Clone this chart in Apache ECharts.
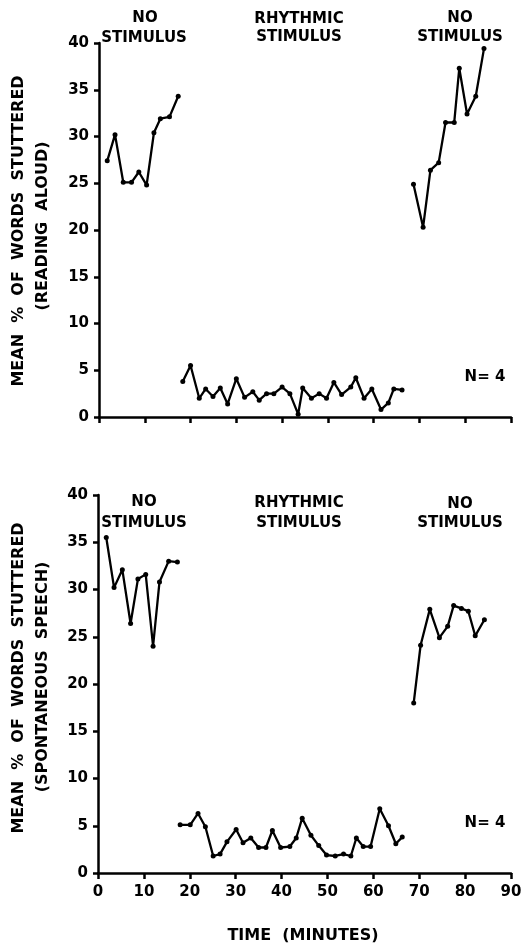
<!DOCTYPE html>
<html><head><meta charset="utf-8">
<script src="https://cdn.jsdelivr.net/npm/echarts@6/dist/echarts.min.js"></script>
<style>html,body{margin:0;padding:0;background:#fff}#c{width:528px;height:945px}</style>
</head><body><div id="c"></div>
<script>
// ---- Data (minutes, mean % words stuttered) ----
const xTicks = [0, 10, 20, 30, 40, 50, 60, 70, 80, 90];
const yTicks = [0, 5, 10, 15, 20, 25, 30, 35, 40];

// Reading aloud
const readBaseTimes = [1.8, 3.5, 5.3, 7.1, 8.7, 10.4, 12.0, 13.4, 15.4, 17.3];
const readBaseValues = [27.4, 30.2, 25.1, 25.1, 26.2, 24.8, 30.4, 31.9, 32.1, 34.3];
const readRhythmTimes = [18.3, 20.0, 21.9, 23.3, 24.9, 26.5, 28.1, 30.0, 31.8, 33.6, 35.0, 36.6, 38.2, 40.0, 41.7, 43.5, 44.5, 46.4, 48.1, 49.7, 51.3, 53.0, 55.0, 56.1, 57.9, 59.6, 61.6, 63.2, 64.4, 66.2];
const readRhythmValues = [3.8, 5.5, 2.0, 3.0, 2.2, 3.1, 1.4, 4.1, 2.1, 2.7, 1.8, 2.5, 2.5, 3.2, 2.5, 0.3, 3.1, 2.0, 2.5, 2.0, 3.7, 2.4, 3.2, 4.2, 2.0, 3.0, 0.8, 1.5, 3.0, 2.9];
const readPostTimes = [68.7, 70.8, 72.4, 74.2, 75.7, 77.6, 78.7, 80.4, 82.3, 84.1];
const readPostValues = [24.9, 20.3, 26.4, 27.2, 31.5, 31.5, 37.3, 32.4, 34.3, 39.4];

// Spontaneous speech
const speechBaseTimes = [1.8, 3.5, 5.3, 7.1, 8.7, 10.4, 12.0, 13.4, 15.4, 17.3];
const speechBaseValues = [35.5, 30.2, 32.1, 26.4, 31.1, 31.6, 24.0, 30.8, 33.0, 32.9];
const speechRhythmTimes = [17.9, 20.1, 21.8, 23.4, 25.1, 26.6, 28.1, 30.1, 31.6, 33.3, 35.0, 36.6, 38.0, 39.8, 41.8, 43.2, 44.5, 46.4, 48.1, 49.8, 51.7, 53.5, 55.1, 56.3, 57.8, 59.4, 61.4, 63.3, 64.9, 66.3];
const speechRhythmValues = [5.1, 5.1, 6.3, 4.9, 1.8, 2.0, 3.3, 4.6, 3.2, 3.7, 2.7, 2.7, 4.5, 2.7, 2.8, 3.7, 5.8, 4.0, 2.9, 1.9, 1.8, 2.0, 1.8, 3.7, 2.8, 2.8, 6.8, 5.0, 3.1, 3.8];
const speechPostTimes = [68.8, 70.3, 72.3, 74.4, 76.2, 77.5, 79.2, 80.7, 82.2, 84.2];
const speechPostValues = [18.0, 24.1, 27.9, 24.9, 26.1, 28.3, 28.0, 27.7, 25.1, 26.8];

const phaseLabels = ['NO', 'STIMULUS', 'RHYTHMIC', 'STIMULUS', 'NO', 'STIMULUS'];
const yTitle = 'MEAN  %  OF  WORDS  STUTTERED';
const yTitleRead = '(READING  ALOUD)';
const yTitleSpeech = '(SPONTANEOUS  SPEECH)';
const xTitle = 'TIME  (MINUTES)';
const nLabel = 'N= 4';

// ---- Chart ----
const FONT = 'DejaVu Sans';
const INK = '#000';
const zip = (xs, ys) => xs.map((x, i) => [x, ys[i]]);

function seriesFor(idx, xs, ys) {
  return {
    type: 'line', xAxisIndex: idx, yAxisIndex: idx,
    data: zip(xs, ys),
    symbol: 'circle', symbolSize: 5,
    lineStyle: { color: INK, width: 2.3 },
    itemStyle: { color: INK },
    silent: true, animation: false
  };
}

function xAxisFor(idx, showLabels) {
  return {
    gridIndex: idx, type: 'value', min: xTicks[0], max: xTicks[xTicks.length - 1], interval: 10,
    axisLine: { show: true, lineStyle: { color: INK, width: 2.5 } },
    axisTick: { show: true, length: 6, lineStyle: { color: INK, width: 2.5 } },
    axisLabel: { show: showLabels, margin: 12, color: INK, fontFamily: FONT, fontWeight: 'bold', fontSize: 15 },
    splitLine: { show: false }
  };
}
function yAxisFor(idx) {
  return {
    gridIndex: idx, type: 'value', min: yTicks[0], max: yTicks[yTicks.length - 1], interval: 5,
    axisLine: { show: true, lineStyle: { color: INK, width: 2.5 } },
    axisTick: { show: true, length: 5, lineStyle: { color: INK, width: 2.5 } },
    axisLabel: { show: true, margin: 10, color: INK, fontFamily: FONT, fontWeight: 'bold', fontSize: 15 },
    splitLine: { show: false }
  };
}

function txt(x, y, text, size, rot) {
  return {
    type: 'text', x: x, y: y, rotation: rot || 0, silent: true,
    style: { text: text, fill: INK, fontFamily: FONT, fontWeight: 'bold', fontSize: size,
             align: 'center', verticalAlign: 'middle', textAlign: 'center', textVerticalAlign: 'middle' }
  };
}

const R = Math.PI / 2;
const graphics = [
  // top panel headers
  txt(145, 18, phaseLabels[0], 15), txt(144, 38, phaseLabels[1], 15),
  txt(299, 19, phaseLabels[2], 15), txt(299, 37, phaseLabels[3], 15),
  txt(460, 18, phaseLabels[4], 15), txt(460, 37, phaseLabels[5], 15),
  // bottom panel headers
  txt(144, 502, phaseLabels[0], 15), txt(144, 523, phaseLabels[1], 15),
  txt(299, 503, phaseLabels[2], 15), txt(299, 523, phaseLabels[3], 15),
  txt(460, 504, phaseLabels[4], 15), txt(460, 523, phaseLabels[5], 15),
  // y titles
  txt(19, 231, yTitle, 16, R), txt(43, 226, yTitleRead, 16, R),
  txt(19, 678, yTitle, 16, R), txt(43, 677, yTitleSpeech, 16, R),
  // N labels
  txt(485, 377, nLabel, 15), txt(485, 823, nLabel, 15),
  // x title
  txt(303, 936, xTitle, 16)
];

const chart = echarts.init(document.getElementById('c'), null, { renderer: 'canvas' });
chart.setOption({
  backgroundColor: '#fff',
  animation: false,
  grid: [
    { left: 99, width: 412, top: 43, height: 374 },
    { left: 98, width: 413, top: 495, height: 378 }
  ],
  xAxis: [xAxisFor(0, false), xAxisFor(1, true)],
  yAxis: [yAxisFor(0), yAxisFor(1)],
  series: [
    seriesFor(0, readBaseTimes, readBaseValues),
    seriesFor(0, readRhythmTimes, readRhythmValues),
    seriesFor(0, readPostTimes, readPostValues),
    seriesFor(1, speechBaseTimes, speechBaseValues),
    seriesFor(1, speechRhythmTimes, speechRhythmValues),
    seriesFor(1, speechPostTimes, speechPostValues)
  ],
  graphic: graphics
});
</script>
</body></html>
